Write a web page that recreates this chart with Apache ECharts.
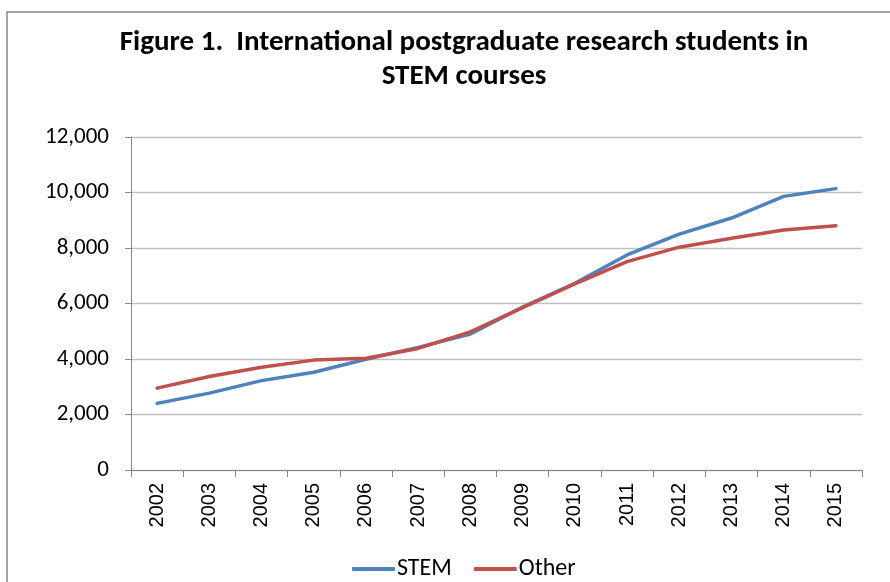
<!DOCTYPE html>
<html>
<head>
<meta charset="utf-8">
<script src="https://cdn.jsdelivr.net/npm/echarts@6/dist/echarts.min.js"></script>
<style>
  html, body { margin: 0; padding: 0; background: #fff; }
  #chart { width: 890px; height: 582px; }
</style>
</head>
<body>
<div id="chart"></div>
<script>
(function () {
  var years = ['2002', '2003', '2004', '2005', '2006', '2007', '2008',
               '2009', '2010', '2011', '2012', '2013', '2014', '2015'];
  var stem = [2400, 2770, 3220, 3520, 3990, 4420, 4900,
              5870, 6730, 7750, 8500, 9080, 9860, 10140];
  var other = [2950, 3370, 3700, 3960, 4030, 4380, 4980,
               5850, 6710, 7510, 8030, 8350, 8650, 8800];

  var blue = '#4f81bd', red = '#c0504d';
  var grid = '#bfbfbf', axis = '#868686';
  var face = 'Carlito, "Liberation Sans Narrow", "Open Sans", sans-serif';

  var chart = echarts.init(document.getElementById('chart'), null, { renderer: 'canvas' });

  chart.setOption({
    animation: false,
    backgroundColor: '#fff',
    graphic: [{
      type: 'rect',
      shape: { x: 7, y: 12, width: 900, height: 600 },
      style: { fill: 'none', stroke: axis, lineWidth: 1.5 },
      silent: true
    }],
    title: {
      text: 'Figure 1.  International postgraduate research students in\nSTEM courses',
      left: 459,
      top: 21,
      textAlign: 'center',
      textStyle: {
        fontFamily: face,
        fontSize: 29,
        fontWeight: 'bold',
        lineHeight: 34,
        color: '#000'
      }
    },
    legend: {
      left: 347,
      top: 552,
      icon: 'roundRect',
      itemWidth: 43,
      itemHeight: 4,
      itemGap: 22,
      textStyle: { fontFamily: face, fontSize: 24, color: '#000', padding: [0, 0, 0, -3] },
      data: ['STEM', 'Other']
    },
    grid: { left: 131, right: 28, top: 137, bottom: 112 },
    xAxis: {
      type: 'category',
      data: years,
      boundaryGap: true,
      axisLine: { lineStyle: { color: axis, width: 1 } },
      axisTick: { show: true, interval: 0, length: 7, lineStyle: { color: axis } },
      axisLabel: {
        rotate: 90,
        interval: 0,
        margin: 13,
        fontFamily: '"Liberation Sans", Arial, sans-serif',
        fontSize: 20,
        color: '#000'
      }
    },
    yAxis: {
      type: 'value',
      min: 0,
      max: 12000,
      interval: 2000,
      axisLine: { show: true, lineStyle: { color: axis, width: 1 } },
      axisTick: { show: true, length: 6, lineStyle: { color: axis } },
      splitLine: { lineStyle: { color: grid, width: 1.3 } },
      axisLabel: {
        margin: 22,
        fontFamily: face,
        fontSize: 23,
        color: '#000',
        formatter: function (v) { return v.toLocaleString('en-US'); }
      }
    },
    series: [{
      name: 'STEM',
      type: 'line',
      data: stem,
      symbol: 'none',
      lineStyle: { color: blue, width: 3.5, cap: 'round', join: 'round' },
      itemStyle: { color: blue }
    }, {
      name: 'Other',
      type: 'line',
      data: other,
      symbol: 'none',
      lineStyle: { color: red, width: 3.5, cap: 'round', join: 'round' },
      itemStyle: { color: red }
    }]
  });
  window.addEventListener('resize', function () { chart.resize(); });
})();
</script>
</body>
</html>
